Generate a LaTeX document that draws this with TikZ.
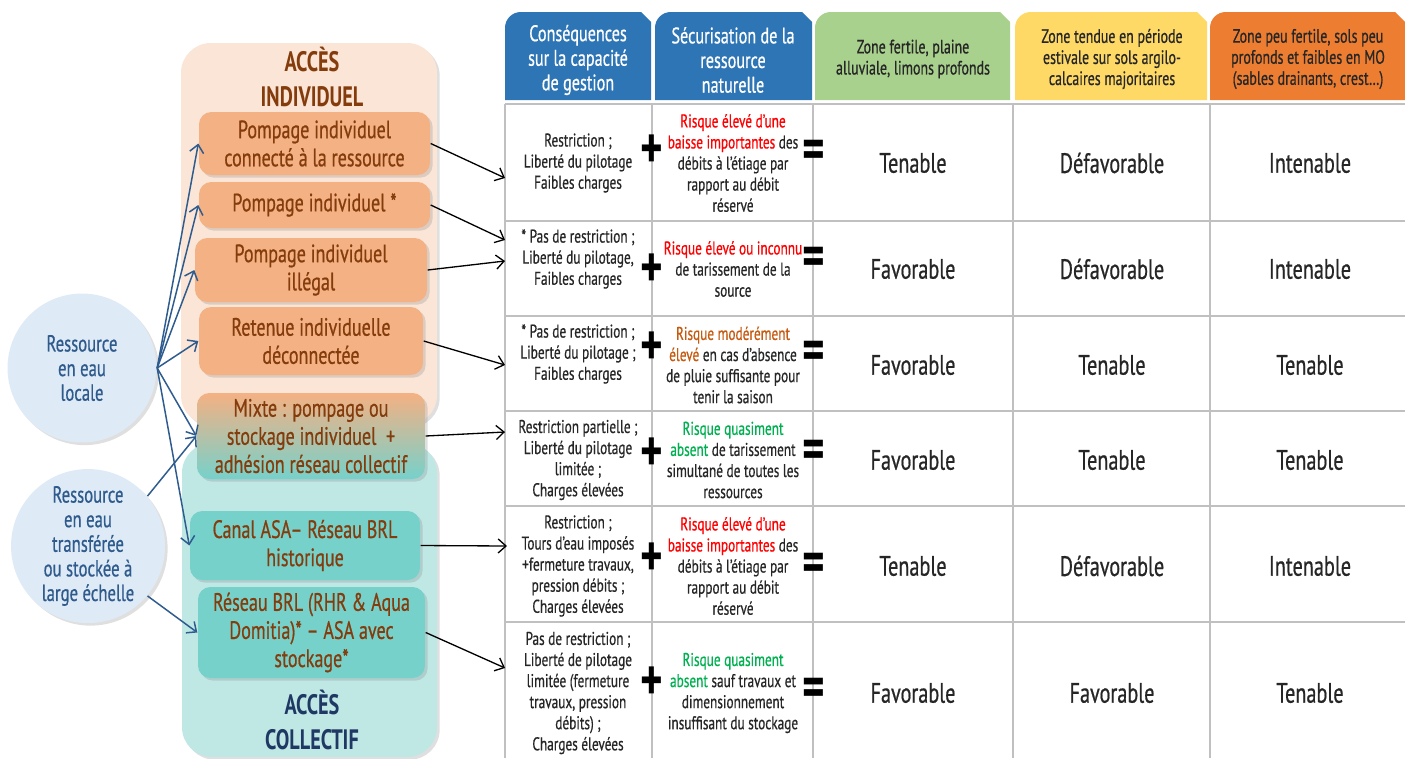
\documentclass[tikz,border=0pt]{standalone}
\usepackage{fontspec}
\setmainfont{PT Sans}[FakeStretch=0.72, UprightFeatures={FakeBold=0.6}]
\usetikzlibrary{arrows.meta,shadows}

\definecolor{peachbg}{HTML}{FBE5D6}
\definecolor{peachbox}{HTML}{F4B183}
\definecolor{tealbg}{HTML}{BFE8E5}
\definecolor{tealbox}{HTML}{76D1CB}
\definecolor{accbrown}{HTML}{843C0C}
\definecolor{accnavy}{HTML}{1F3864}
\definecolor{circfill}{HTML}{DEEBF7}
\definecolor{circtext}{HTML}{2F5A8C}
\definecolor{feedblue}{HTML}{2F5C8F}
\definecolor{hblue}{HTML}{2E75B6}
\definecolor{zgreen}{HTML}{A9D18E}
\definecolor{zyellow}{HTML}{FFD966}
\definecolor{zorange}{HTML}{ED7D31}
\definecolor{gridgray}{HTML}{C0C0C0}
\definecolor{bodytext}{HTML}{262626}
\definecolor{riskred}{HTML}{FF0000}
\definecolor{riskorange}{HTML}{C55A11}
\definecolor{riskgreen}{HTML}{00B050}

\begin{document}
\begin{tikzpicture}[x=0.02cm, y=-0.02cm, line width=0.8pt,
  softshadow/.style={drop shadow={opacity=0.25, shadow xshift=1.5pt, shadow yshift=-1.5pt}},
  accbox/.style={rectangle, rounded corners=7pt, inner sep=0pt, align=center, text=accbrown,
    font=\fontsize{14.3}{16}\selectfont, softshadow},
  ress/.style={circle, fill=circfill, inner sep=0pt, align=center, text=circtext,
    font=\fontsize{13.2}{14}\selectfont, softshadow},
  acctitle/.style={align=center, font=\fontsize{16}{20}\selectfont\bfseries},
  headtext/.style={align=center, text=white, font=\fontsize{12.8}{14}\selectfont},
  zonetext/.style={align=center, text=bodytext, font=\fontsize{11}{12}\selectfont},
  cell/.style={align=center, text=bodytext, font=\fontsize{10.5}{12}\selectfont},
  verdict/.style={text=bodytext, font=\fontsize{16}{18}\selectfont},
  sign/.style={font=\fontsize{34}{34}\selectfont\bfseries},
  feed/.style={draw=feedblue, line width=0.85pt, -{Straight Barb[length=4.5pt,width=8pt]}},
  link/.style={draw=black, line width=0.75pt, -{Straight Barb[length=4.5pt,width=8pt]}},
  gridline/.style={draw=gridgray, line width=1.1pt}]
\useasboundingbox (0,0) rectangle (1405,758);

% access zones
\fill[peachbg, rounded corners=17pt, softshadow] (181,43) rectangle (437,425);
\fill[tealbg, rounded corners=17pt, softshadow] (182,443) rectangle (437,757);
\node[acctitle, text=accbrown] (indiv) at (312,77) {ACCÈS\\INDIVIDUEL};
\node[acctitle, text=accnavy] (collec) at (312,720) {ACCÈS\\COLLECTIF};

% access modes
\node[accbox, fill=peachbox, minimum width=4.62cm, minimum height=1.26cm] (pic) at (314.5,143.5) {Pompage individuel\\connecté à la ressource};
\node[accbox, fill=peachbox, minimum width=4.62cm, minimum height=0.92cm] (pis) at (314.5,205) {Pompage individuel *};
\node[accbox, fill=peachbox, minimum width=4.64cm, minimum height=1.28cm] (pil) at (311,270) {Pompage individuel\\illégal};
\node[accbox, fill=peachbox, minimum width=4.48cm, minimum height=1.36cm] (rid) at (311,341) {Retenue individuelle\\déconnectée};
\node[accbox, top color=peachbox, bottom color=tealbox, minimum width=4.56cm, minimum height=1.72cm] (mix) at (311,436) {Mixte : pompage ou\\stockage individuel~~+\\adhésion réseau collectif};
\node[accbox, fill=tealbox, minimum width=4.6cm, minimum height=1.38cm] (asa) at (305,545.5) {Canal ASA– Réseau BRL\\historique};
\node[accbox, fill=tealbox, minimum width=4.54cm, minimum height=1.82cm] (brl) at (311.5,632.5) {Réseau BRL (RHR \& Aqua\\Domitia)* – ASA avec\\stockage*};

% resources
\node[ress, minimum size=2.98cm] (loc) at (82,368) {Ressource\\en eau\\locale};
\node[ress, minimum size=3.08cm] (tra) at (88,546) {Ressource\\en eau\\transférée\\ou stockée à\\large échelle};

\draw[feed] (loc.east) -- (pic.west);
\draw[feed] (loc.east) -- (pis.west);
\draw[feed] (loc.east) -- (pil.west);
\draw[feed] (loc.east) -- (rid.west);
\draw[feed] (loc.east) -- (mix.west);
\draw[feed] (loc.east) -- (asa.west);
\draw[feed] (tra.40) -- (mix.west);
\draw[feed] (tra.-40) -- (brl.west);

% column headers
\foreach \xa/\xb/\col in {505/651/hblue, 655/812/hblue, 815/1010/zgreen, 1015/1207/zyellow, 1210/1405/zorange}
  \fill[\col] (\xa,100) [rounded corners=9pt] -- (\xa,12) [sharp corners] -- (\xb-10,12) -- (\xb,22) -- (\xb,100) -- cycle;
\node[headtext] (hcons) at (578,60) {Conséquences\\sur la capacité\\de gestion};
\node[headtext] (hsecu) at (733,60) {Sécurisation de la\\ressource\\naturelle};
\node[zonetext] (hz1) at (913,59) {Zone fertile, plaine\\alluviale, limons profonds};
\node[zonetext] (hz2) at (1112,59) {Zone tendue en période\\estivale sur sols argilo-\\calcaires majoritaires};
\node[zonetext] (hz3) at (1308,59) {Zone peu fertile, sols peu\\profonds et faibles en MO\\(sables drainants, crest…)};

% grid
\foreach \y in {104,221,316,411,506,622}
  \draw[gridline] (505,\y) -- (1405,\y);
\foreach \x in {505,652,813,1013,1210}
  \draw[gridline] (\x,104) -- (\x,758);

% management consequences
\node[cell] (c1) at (578,163) {Restriction ;\\Liberté du pilotage\\Faibles charges};
\node[cell] (c2) at (578,259) {* Pas de restriction ;\\Liberté du pilotage,\\Faibles charges};
\node[cell] (c3) at (578,354) {* Pas de restriction ;\\Liberté du pilotage ;\\Faibles charges};
\node[cell] (c4) at (578,460) {Restriction partielle ;\\Liberté du pilotage\\limitée ;\\Charges élevées};
\node[cell] (c5) at (578,566) {Restriction ;\\Tours d’eau imposés\\+fermeture travaux,\\pression débits ;\\Charges élevées};
\node[cell] (c6) at (578,693) {Pas de restriction ;\\Liberté de pilotage\\limitée (fermeture\\travaux, pression\\débits) ;\\Charges élevées};

% resource security
\node[cell] (s1) at (733,163) {\textcolor{riskred}{Risque élevé d’une}\\\textcolor{riskred}{baisse importantes} des\\débits à l’étiage par\\rapport au débit\\réservé};
\node[cell] (s2) at (733,269) {\textcolor{riskred}{Risque élevé ou inconnu}\\de tarissement de la\\source};
\node[cell] (s3) at (733,365) {\textcolor{riskorange}{Risque modérément}\\\textcolor{riskorange}{élevé} en cas d’absence\\de pluie suffisante pour\\tenir la saison};
\node[cell] (s4) at (733,460) {\textcolor{riskgreen}{Risque quasiment}\\\textcolor{riskgreen}{absent} de tarissement\\simultané de toutes les\\ressources};
\node[cell] (s5) at (733,566) {\textcolor{riskred}{Risque élevé d’une}\\\textcolor{riskred}{baisse importantes} des\\débits à l’étiage par\\rapport au débit\\réservé};
\node[cell] (s6) at (733,693) {\textcolor{riskgreen}{Risque quasiment}\\\textcolor{riskgreen}{absent} sauf travaux et\\dimensionnement\\insuffisant du stockage};

\foreach \yp/\ye [count=\r] in {152/155, 271/262, 349/356, 455/455, 560/568, 684/693} {
  \node[sign] (plus\r) at (652,\yp) {+};
  \node[sign] (eq\r) at (814,\ye) {=};
}

% verdicts per zone
\foreach \y/\va/\vb/\vc [count=\r] in {163/Tenable/Défavorable/Intenable, 269/Favorable/Défavorable/Intenable,
    365/Favorable/Tenable/Tenable, 460/Favorable/Tenable/Tenable,
    566/Tenable/Défavorable/Intenable, 693/Favorable/Favorable/Tenable} {
  \node[verdict] (v\r a) at (913,\y) {\va};
  \node[verdict] (v\r b) at (1112,\y) {\vb};
  \node[verdict] (v\r c) at (1310,\y) {\vc};
}

% links to the table
\coordinate (t1) at (505,178);
\coordinate (t2) at (505,240);
\coordinate (t3) at (505,261);
\coordinate (t4) at (505,365);
\coordinate (t5) at (505,432);
\coordinate (t6) at (507,546);
\coordinate (t7) at (505,668);
\draw[link] (pic.east) -- (t1);
\draw[link] (pis.east) -- (t2);
\draw[link] (pil.east) -- (t3);
\draw[link] (rid.east) -- (t4);
\draw[link] (mix.east) -- (t5);
\draw[link] (asa.east) -- (t6);
\draw[link] (brl.east) -- (t7);
\end{tikzpicture}
\end{document}
